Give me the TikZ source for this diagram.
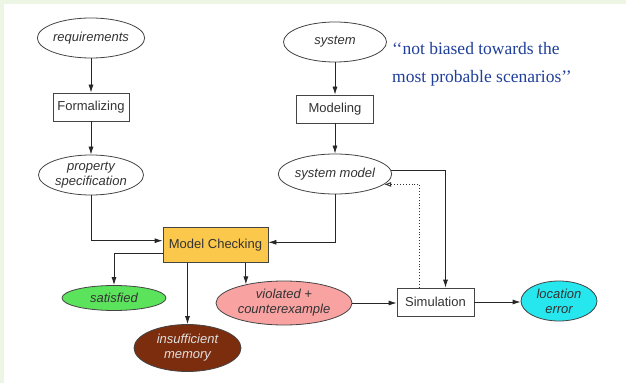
\documentclass[tikz,border=0pt]{standalone}
\usepackage{fontspec}
\setmainfont{Liberation Serif}
\newfontfamily\nodefont{Liberation Sans}
\usetikzlibrary{shapes.geometric,arrows.meta}
\definecolor{framegreen}{HTML}{EDF5E5}
\definecolor{mcorange}{HTML}{FCC84B}
\definecolor{satgreen}{HTML}{5BE35B}
\definecolor{insbrown}{HTML}{7B2D0E}
\definecolor{viopink}{HTML}{F9A2A2}
\definecolor{loccyan}{HTML}{26E6EE}
\definecolor{quoteblue}{HTML}{1F3F9A}
\definecolor{txtgray}{HTML}{333333}
\definecolor{edgegray}{HTML}{444444}
\tikzset{
  lbl/.style={font=\nodefont\fontsize{13}{15}\selectfont, text=txtgray, align=center, inner sep=0pt},
  oval/.style={lbl, ellipse, draw=edgegray, line width=0.8pt, font=\nodefont\itshape\fontsize{13}{15}\selectfont},
  procbox/.style={lbl, rectangle, draw=edgegray, line width=0.8pt, fill=white},
  conn/.style={line width=0.8pt, draw=black!85, -{Latex[length=8pt,width=5pt]}},
  dotconn/.style={line width=0.9pt, draw=black!80, dotted, -{Latex[open,length=7pt,width=5pt]}}
}
\begin{document}
\begin{tikzpicture}[x=1pt,y=1pt]
\useasboundingbox (0,0) rectangle (626,383);
\fill[white] (0,0) rectangle (626,383);
\fill[framegreen] (0,379) rectangle (626,383);
\fill[framegreen] (0,0) rectangle (4,383);

% left column
\node[oval, minimum width=105pt, minimum height=40pt] (req) at (91,345) {requirements};
\node[procbox, minimum width=76pt, minimum height=28pt] (form) at (91,276) {Formalizing};
\node[oval, minimum width=105pt, minimum height=40pt] (prop) at (91,208) {property\\specification};

% right column
\node[oval, minimum width=103pt, minimum height=40pt] (sys) at (335,341) {system};
\node[procbox, minimum width=77pt, minimum height=28pt] (mod) at (335,274) {Modeling};
\node[oval, minimum width=106pt, minimum height=40pt] (sm) at (335,209) {system model};

% quote
\node[anchor=west, align=left, text=quoteblue, inner sep=0pt,
      font=\fontsize{17.5}{28}\selectfont] (quote) at (392,319)
  {\textquoteleft\textquoteleft not biased towards the\\most probable scenarios\textquoteright\textquoteright};

% centre
\node[procbox, fill=mcorange, minimum width=105pt, minimum height=35pt] (mc) at (215.5,138) {Model Checking};

% outcomes
\node[oval, fill=satgreen, minimum width=104pt, minimum height=25pt] (sat) at (114,85) {satisfied};
\node[oval, fill=insbrown, text=white!88!black, minimum width=107pt, minimum height=47pt] (ins) at (187.5,35) {insufficient\\memory};
\node[oval, fill=viopink, minimum width=136pt, minimum height=44pt] (vio) at (284,80) {violated +\\counterexample};
\node[procbox, minimum width=77pt, minimum height=28pt] (sim) at (435.5,81) {Simulation};
\node[oval, fill=loccyan, minimum width=76pt, minimum height=40pt] (loc) at (559,82) {location\\error};

% connectors
\draw[conn] (req) -- (form);
\draw[conn] (form) -- (prop);
\draw[conn] (sys) -- (mod);
\draw[conn] (mod) -- (sm);
\draw[conn] (prop.south) |- ([yshift=4.3pt]mc.west);
\draw[conn] (sm.south) |- ([yshift=2.7pt]mc.east);
\draw[conn] ([yshift=-8pt]mc.west) -| (sat.north);
\draw[conn] (mc.south -| ins.north) -- (ins.north);
\draw[conn] (mc.south -| vio.154) -- (vio.154);
\draw[conn] (vio.east) -- (vio.east -| sim.west);
\draw[conn] (sim.east) -- (sim.east -| loc.west);
\draw[conn] (sm.4) -| ([xshift=10pt]sim.north);
\draw[dotconn] ([xshift=-16pt]sim.north) |- (sm.-12);
\end{tikzpicture}
\end{document}
